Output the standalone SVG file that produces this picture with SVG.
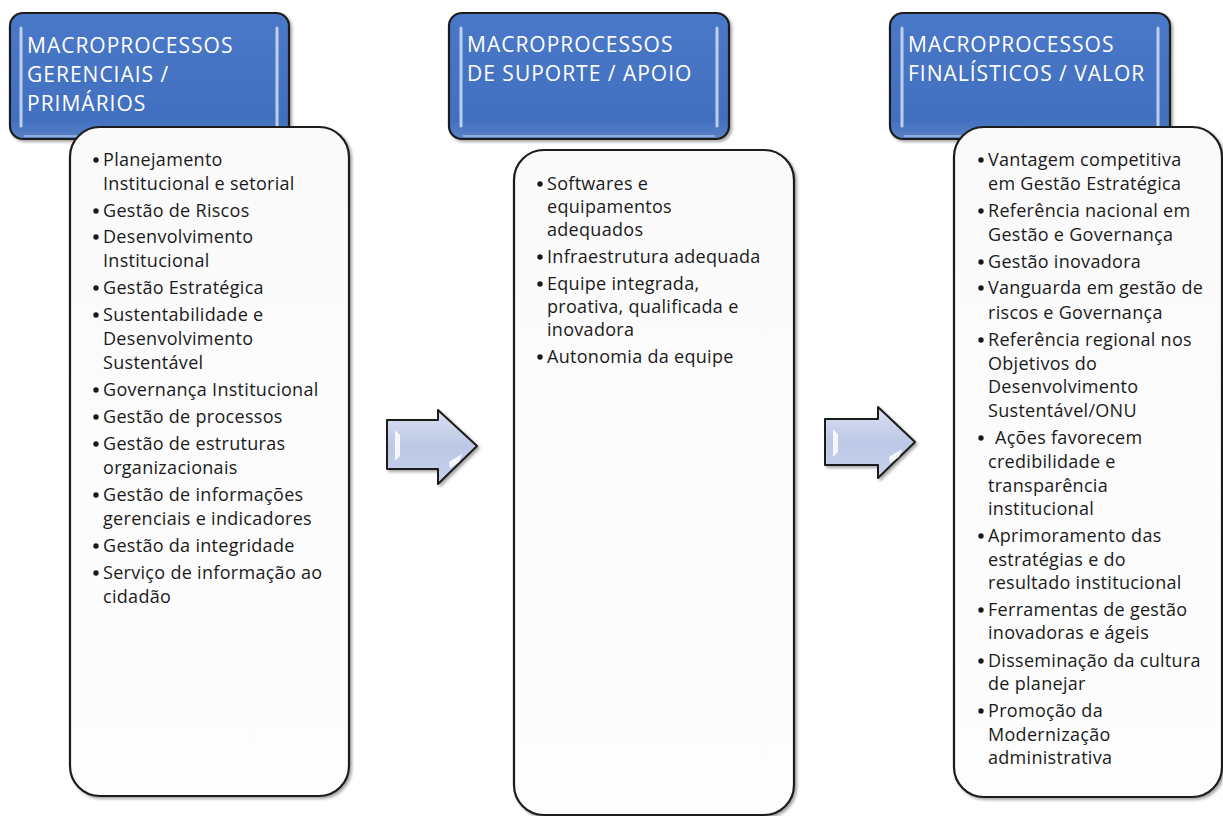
<svg xmlns="http://www.w3.org/2000/svg" width="1223" height="816" viewBox="0 0 1223 816">
<defs>
<linearGradient id="hdrGrad" x1="0" y1="0" x2="0" y2="1">
<stop offset="0" stop-color="#4a78c8"/>
<stop offset="0.85" stop-color="#4270c0"/>
<stop offset="1" stop-color="#5a82c6"/>
</linearGradient>
<linearGradient id="boxGrad" x1="0" y1="0" x2="0" y2="1">
<stop offset="0" stop-color="#fafafa"/>
<stop offset="1" stop-color="#fdfdfd"/>
</linearGradient>
<linearGradient id="arrGrad" x1="0" y1="0" x2="0" y2="1">
<stop offset="0" stop-color="#d9e0f1"/>
<stop offset="0.5" stop-color="#bcc8e6"/>
<stop offset="1" stop-color="#c7d1eb"/>
</linearGradient>
<filter id="shadow" x="-5%" y="-5%" width="112%" height="112%">
<feDropShadow dx="2" dy="2" stdDeviation="1.5" flood-color="#000" flood-opacity="0.35"/>
</filter>
</defs>
<style>
.hdr{fill:url(#hdrGrad);stroke:#1c1c1c;stroke-width:2.2}
.hl{stroke:#c9d9f2;stroke-width:3;stroke-linecap:round;fill:none;opacity:0.9}
.bot{stroke:#9fb6df;stroke-width:2;fill:none;opacity:0.8}
.box{fill:url(#boxGrad);stroke:#1c1c1c;stroke-width:2.2}
.ht{font-family:"Open Sans","Liberation Sans",sans-serif;font-size:21px;letter-spacing:1px;fill:#ffffff}
.t{font-family:"Open Sans","Liberation Sans",sans-serif;font-size:18px;fill:#1a1a1a;letter-spacing:0.3px}
.b{fill:#1a1a1a}
.arr{fill:url(#arrGrad);stroke:#1c1c1c;stroke-width:2;stroke-linejoin:round}
.shine{fill:#ffffff;opacity:0.85}
</style>
<rect width="1223" height="816" fill="#ffffff"/>

<!-- Header 1 -->
<g id="header-gerenciais">
<rect class="hdr" x="10" y="13" width="279" height="126" rx="13" filter="url(#shadow)"/>
<line class="hl" x1="21" y1="28" x2="21" y2="126"/>
<line class="hl" x1="277" y1="28" x2="277" y2="126"/>
<path class="bot" d="M24 136 H275"/>
<text class="ht" x="27" y="53">MACROPROCESSOS</text>
<text class="ht" x="27" y="82">GERENCIAIS /</text>
<text class="ht" x="27" y="111">PRIMÁRIOS</text>
</g>

<!-- Header 2 -->
<g id="header-suporte">
<rect class="hdr" x="449" y="13" width="280" height="126" rx="13" filter="url(#shadow)"/>
<line class="hl" x1="461" y1="28" x2="461" y2="126"/>
<line class="hl" x1="717" y1="28" x2="717" y2="126"/>
<path class="bot" d="M463 136 H715"/>
<text class="ht" x="467" y="52">MACROPROCESSOS</text>
<text class="ht" x="467" y="81">DE SUPORTE / APOIO</text>
</g>

<!-- Header 3 -->
<g id="header-finalisticos">
<rect class="hdr" x="890" y="13" width="280" height="126" rx="13" filter="url(#shadow)"/>
<line class="hl" x1="902" y1="28" x2="902" y2="126"/>
<line class="hl" x1="1158" y1="28" x2="1158" y2="126"/>
<path class="bot" d="M904 136 H1156"/>
<text class="ht" x="908" y="52">MACROPROCESSOS</text>
<text class="ht" x="908" y="81">FINALÍSTICOS / VALOR</text>
</g>

<!-- Content box 1 -->
<g id="box-gerenciais">
<rect class="box" x="70" y="127" width="279" height="669" rx="30" filter="url(#shadow)"/>
<circle class="b" cx="96" cy="160" r="2.7"/>
<text class="t" x="103" y="166">Planejamento</text>
<text class="t" x="103" y="190">Institucional e setorial</text>
<circle class="b" cx="96" cy="211" r="2.7"/>
<text class="t" x="103" y="217">Gestão de Riscos</text>
<circle class="b" cx="96" cy="237" r="2.7"/>
<text class="t" x="103" y="243">Desenvolvimento</text>
<text class="t" x="103" y="267">Institucional</text>
<circle class="b" cx="96" cy="288" r="2.7"/>
<text class="t" x="103" y="294">Gestão Estratégica</text>
<circle class="b" cx="96" cy="315" r="2.7"/>
<text class="t" x="103" y="321">Sustentabilidade e</text>
<text class="t" x="103" y="345">Desenvolvimento</text>
<text class="t" x="103" y="369">Sustentável</text>
<circle class="b" cx="96" cy="390" r="2.7"/>
<text class="t" x="103" y="396">Governança Institucional</text>
<circle class="b" cx="96" cy="417" r="2.7"/>
<text class="t" x="103" y="423">Gestão de processos</text>
<circle class="b" cx="96" cy="444" r="2.7"/>
<text class="t" x="103" y="450">Gestão de estruturas</text>
<text class="t" x="103" y="474">organizacionais</text>
<circle class="b" cx="96" cy="495" r="2.7"/>
<text class="t" x="103" y="501">Gestão de informações</text>
<text class="t" x="103" y="525">gerenciais e indicadores</text>
<circle class="b" cx="96" cy="546" r="2.7"/>
<text class="t" x="103" y="552">Gestão da integridade</text>
<circle class="b" cx="96" cy="573" r="2.7"/>
<text class="t" x="103" y="579">Serviço de informação ao</text>
<text class="t" x="103" y="603">cidadão</text>
</g>

<!-- Content box 2 -->
<g id="box-suporte">
<rect class="box" x="514" y="150" width="280" height="665" rx="30" filter="url(#shadow)"/>
<circle class="b" cx="540" cy="184" r="2.7"/>
<text class="t" x="547" y="190">Softwares e</text>
<text class="t" x="547" y="213">equipamentos</text>
<text class="t" x="547" y="236">adequados</text>
<circle class="b" cx="540" cy="257" r="2.7"/>
<text class="t" x="547" y="263">Infraestrutura adequada</text>
<circle class="b" cx="540" cy="284" r="2.7"/>
<text class="t" x="547" y="290">Equipe integrada,</text>
<text class="t" x="547" y="313">proativa, qualificada e</text>
<text class="t" x="547" y="336">inovadora</text>
<circle class="b" cx="540" cy="357" r="2.7"/>
<text class="t" x="547" y="363">Autonomia da equipe</text>
</g>

<!-- Content box 3 -->
<g id="box-finalisticos">
<rect class="box" x="954" y="127" width="268" height="670" rx="30" filter="url(#shadow)"/>
<circle class="b" cx="981" cy="160" r="2.7"/>
<text class="t" x="988" y="166">Vantagem competitiva</text>
<text class="t" x="988" y="190">em Gestão Estratégica</text>
<circle class="b" cx="981" cy="211" r="2.7"/>
<text class="t" x="988" y="217">Referência nacional em</text>
<text class="t" x="988" y="241">Gestão e Governança</text>
<circle class="b" cx="981" cy="262" r="2.7"/>
<text class="t" x="988" y="268">Gestão inovadora</text>
<circle class="b" cx="981" cy="288" r="2.7"/>
<text class="t" x="988" y="294">Vanguarda em gestão de</text>
<text class="t" x="988" y="319">riscos e Governança</text>
<circle class="b" cx="981" cy="340" r="2.7"/>
<text class="t" x="988" y="346">Referência regional nos</text>
<text class="t" x="988" y="370">Objetivos do</text>
<text class="t" x="988" y="393">Desenvolvimento</text>
<text class="t" x="988" y="417">Sustentável/ONU</text>
<circle class="b" cx="981" cy="438" r="2.7"/>
<text class="t" x="995" y="444">Ações favorecem</text>
<text class="t" x="988" y="468">credibilidade e</text>
<text class="t" x="988" y="492">transparência</text>
<text class="t" x="988" y="515">institucional</text>
<circle class="b" cx="981" cy="536" r="2.7"/>
<text class="t" x="988" y="542">Aprimoramento das</text>
<text class="t" x="988" y="566">estratégias e do</text>
<text class="t" x="988" y="589">resultado institucional</text>
<circle class="b" cx="981" cy="610" r="2.7"/>
<text class="t" x="988" y="616">Ferramentas de gestão</text>
<text class="t" x="988" y="639">inovadoras e ágeis</text>
<circle class="b" cx="981" cy="661" r="2.7"/>
<text class="t" x="988" y="667">Disseminação da cultura</text>
<text class="t" x="988" y="690">de planejar</text>
<circle class="b" cx="981" cy="711" r="2.7"/>
<text class="t" x="988" y="717">Promoção da</text>
<text class="t" x="988" y="741">Modernização</text>
<text class="t" x="988" y="764">administrativa</text>
</g>

<!-- Connectors (block arrows) -->
<g id="connectors">
<g id="arrow-1">
<polygon class="arr" points="387,420 438,420 438,410 477,446 438,484 438,469 387,469" filter="url(#shadow)"/>
<path class="shine" d="M395 430 L400 435 L400 456 L395 461 Z"/>
<path class="shine" d="M449 462 L462 454 L459 462 L450 468 Z"/>
</g>
<g id="arrow-2">
<polygon class="arr" points="825,419 878,419 878,407 915,442 878,478 878,465 825,465" filter="url(#shadow)"/>
<path class="shine" d="M833 429 L838 434 L838 452 L833 457 Z"/>
<path class="shine" d="M889 457 L902 449 L899 457 L890 463 Z"/>
</g>
</g>
</svg>
